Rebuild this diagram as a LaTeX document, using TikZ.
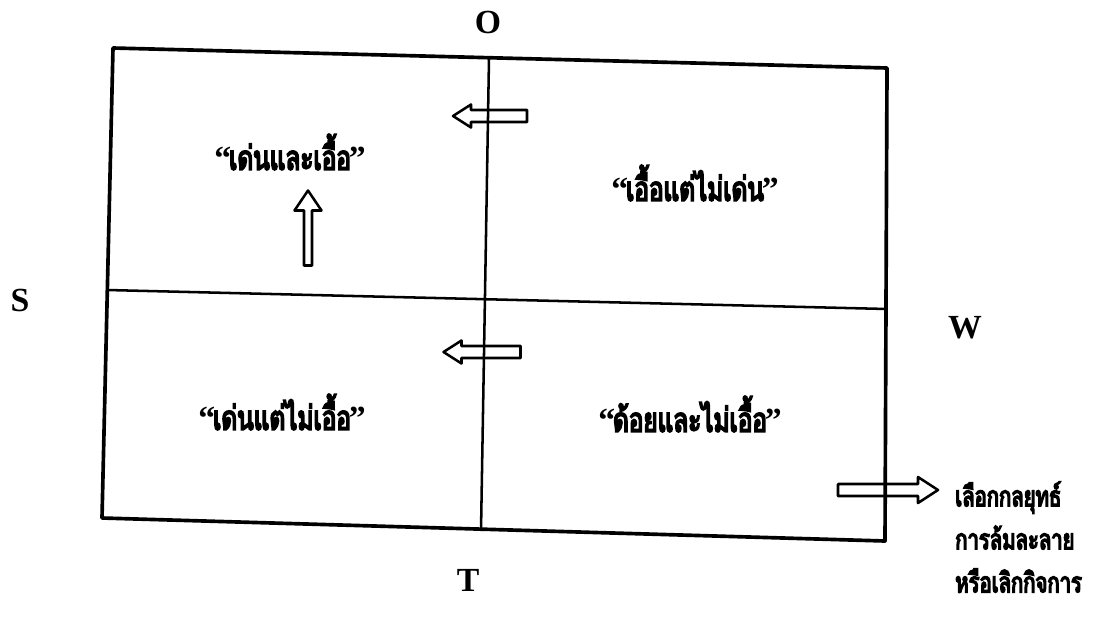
\documentclass[tikz,border=0pt]{standalone}
\usepackage{fontspec}
\setmainfont{Liberation Serif}
\newfontfamily\thaifont[Script=Thai, FakeStretch=0.72, FakeBold=5]{Loma}
\usetikzlibrary{calc, positioning}
\tikzset{
    frame/.style={line width=2.6pt, line join=round},
    divider/.style={line width=1.8pt},
    swot/.style={font=\fontsize{24}{24}\selectfont\bfseries, inner sep=0pt},
    quad/.style={font=\thaifont\fontsize{24}{28}\selectfont, inner sep=0pt},
    note/.style={font=\thaifont\fontsize{20}{30.6}\selectfont,
        align=left, anchor=west, inner sep=0pt},
    arrowline/.style={draw, line width=1.8pt, line join=round}
}
% hollow block arrow: {centre}{angle}{length}{shaft}{head}{head length}
\newcommand{\hollowarrow}[6]{%
    \draw[arrowline, shift={(#1)}, rotate=#2]
        (-#3/2,-#4/2) -- (#3/2-#6,-#4/2) -- (#3/2-#6,-#5/2) -- (#3/2,0)
        -- (#3/2-#6,#5/2) -- (#3/2-#6,#4/2) -- (-#3/2,#4/2) -- cycle;}
\newcommand{\quoted}[1]{{\rmfamily\bfseries “}\kern-1.5pt#1\kern-1.5pt{\rmfamily\bfseries ”}}
\begin{document}
\begin{tikzpicture}[x=0.025cm, y=-0.025cm]
    \useasboundingbox (0,0) rectangle (1116,619);

    % frame corners (scan is slightly skewed)
    \coordinate (tl) at (113,48);
    \coordinate (tr) at (887,68);
    \coordinate (br) at (885,541);
    \coordinate (bl) at (102,518);
    \coordinate (ml) at (107,290);
    \coordinate (mr) at (887,309);
    \coordinate (mt) at (489,58);
    \coordinate (mb) at (481,531);

    \draw[frame] (tl) -- (tr) -- (br) -- (bl) -- cycle;
    \draw[divider] (ml) -- (mr);
    \draw[divider] (mt) -- (mb);

    \node[swot] (labO) at (488,22) {O};
    \node[swot] (labS) at (20,300) {S};
    \node[swot] (labW) at (965,328) {W};
    \node[swot] (labT) at (468,580) {T};

    \node[quad] (quadSO) at (290,152) {\quoted{เด่นและเอื้อ}};
    \node[quad] (quadWO) at (695,183) {\quoted{เอื้อแต่ไม่เด่น}};
    \node[quad] (quadST) at (282,412) {\quoted{เด่นแต่ไม่เอื้อ}};
    \node[quad] (quadWT) at (690,414) {\quoted{ด้อยและไม่เอื้อ}};

    % moves between quadrants
    \hollowarrow{490,116}{180}{74}{12}{23}{18}
    \hollowarrow{308,228}{90}{75}{8}{27}{20}
    \hollowarrow{482,352}{180}{77}{12}{23}{18}
    \hollowarrow{888,490}{0}{100}{12}{26}{20}

    \node[note] (exitNote) at (955,537) {เลือกกลยุทธ์\\การล้มละลาย\\หรือเลิกกิจการ};

\end{tikzpicture}
\end{document}
